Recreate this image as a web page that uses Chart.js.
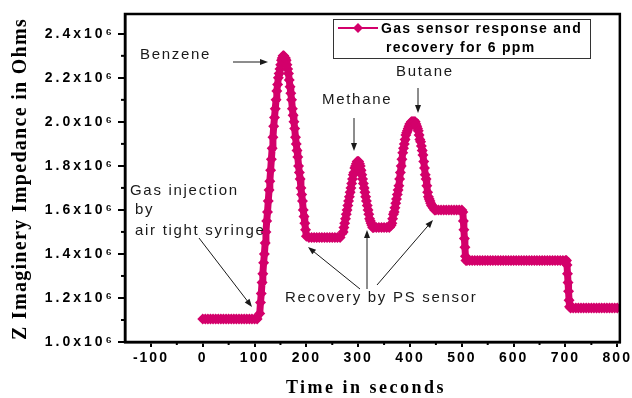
<!DOCTYPE html>
<html>
<head>
<meta charset="utf-8">
<script src="https://cdn.jsdelivr.net/npm/chart.js@4.4.1/dist/chart.umd.min.js"></script>
<style>
  html, body { margin: 0; padding: 0; background: #fff; }
</style>
</head>
<body>
<canvas id="zChart" width="632" height="398"></canvas>
<script>
// time in seconds, one entry per plotted reading
const timeSec = [
  0, 5, 10, 15, 20, 25, 30, 35, 40, 45, 50, 55, 60, 65, 70, 75, 80, 85, 90, 95, 100, 105,
  // benzene
  110, 111.5, 113, 114.5, 116, 117.5, 119, 120.5, 122, 123.5, 125, 126.5, 128, 129.5, 131, 132.5,
  134, 135.5, 137, 138.5, 140, 141.5, 143, 144.5, 146, 147.5, 149, 150.5, 152, 153.5, 155,
  156.5, 158, 159.5, 161, 162.5, 164, 165.5, 167, 168.5, 170, 171.5, 173, 174.5, 176, 177.5,
  179, 180.5, 182, 183.5, 185, 186.5, 188, 189.5, 191, 192.5, 194, 195.5, 197, 198.5, 200,
  205, 210, 215, 220, 225, 230, 235, 240, 245, 250, 255, 260, 265,
  // methane
  271, 272.5, 274, 275.5, 277, 278.5, 280, 281.5, 283, 284.5, 286, 287.5, 289, 290.5, 292, 293.5, 295, 296.5, 298, 299.5,
  301, 302.5, 304, 305.5, 307, 308.5, 310, 311.5, 313, 314.5, 316, 317.5, 319, 320.5, 322, 323.5, 325, 326.5, 328,
  330, 335, 340, 345, 350, 355, 360,
  // butane
  363.5, 365, 366.5, 368, 369.5, 371, 372.5, 374, 375.5, 377, 378.5, 380, 381.5, 383, 384.5, 386,
  387.5, 389, 390.5, 392, 393.5, 395, 396.5, 398, 399.5, 401, 402.5, 404, 405.5, 407, 408.5,
  410, 411.5, 413, 414.5, 416, 417.5, 419, 420.5, 422, 423.5, 425, 426.5, 428, 429.5, 431, 432.5,
  434, 435.5, 437, 438.5, 440, 441.5, 443, 444.5, 446, 447.5,
  450, 455, 460, 465, 470, 475, 480, 485, 490, 495, 500,
  502, 503, 504, 505, 506, 507, 508,
  510, 515, 520, 525, 530, 535, 540, 545, 550, 555, 560, 565, 570, 575, 580, 585, 590, 595, 600, 605,
  610, 615, 620, 625, 630, 635, 640, 645, 650, 655, 660, 665, 670, 675, 680, 685, 690, 695, 700,
  702, 703, 704, 705, 706, 707, 708,
  710, 715, 720, 725, 730, 735, 740, 745, 750, 755, 760, 765, 770, 775, 780, 785, 790, 795, 800
];

// Z imaginary impedance, in units of 10^6 Ohms
const zImag = [
  1.105, 1.105, 1.105, 1.105, 1.105, 1.105, 1.105, 1.105, 1.105, 1.105, 1.105,
  1.105, 1.105, 1.105, 1.105, 1.105, 1.105, 1.105, 1.105, 1.105, 1.105, 1.105,
  // benzene
  1.13, 1.18, 1.22, 1.27, 1.31, 1.36, 1.40, 1.45, 1.50, 1.55, 1.59, 1.64, 1.69, 1.73, 1.78, 1.83,
  1.88, 1.93, 1.98, 2.02, 2.06, 2.10, 2.14, 2.17, 2.20, 2.22, 2.24, 2.26, 2.28, 2.29, 2.30,
  2.30, 2.29, 2.29, 2.28, 2.26, 2.24, 2.22, 2.19, 2.16, 2.13, 2.10, 2.06, 2.03, 2.00, 1.97,
  1.93, 1.90, 1.87, 1.84, 1.80, 1.77, 1.74, 1.70, 1.67, 1.64, 1.60, 1.57, 1.54, 1.51, 1.48,
  1.475, 1.475, 1.475, 1.475, 1.475, 1.475, 1.475, 1.475, 1.475, 1.475, 1.475, 1.475, 1.475,
  // methane
  1.50, 1.52, 1.54, 1.56, 1.58, 1.60, 1.62, 1.64, 1.66, 1.68, 1.70, 1.72, 1.74, 1.76, 1.77, 1.79, 1.80, 1.81, 1.82, 1.82,
  1.82, 1.81, 1.80, 1.78, 1.76, 1.74, 1.72, 1.70, 1.68, 1.66, 1.64, 1.62, 1.60, 1.58, 1.56, 1.55, 1.54, 1.53, 1.52,
  1.52, 1.52, 1.52, 1.52, 1.52, 1.52, 1.52,
  // butane
  1.53, 1.54, 1.56, 1.58, 1.59, 1.61, 1.63, 1.65, 1.67, 1.69, 1.71, 1.74, 1.77, 1.80, 1.83, 1.86,
  1.88, 1.90, 1.92, 1.94, 1.95, 1.96, 1.97, 1.98, 1.99, 1.99, 2.00, 2.00, 2.00, 2.00, 2.00,
  2.00, 1.99, 1.98, 1.97, 1.96, 1.94, 1.92, 1.91, 1.89, 1.87, 1.85, 1.82, 1.79, 1.76, 1.74, 1.71,
  1.68, 1.66, 1.65, 1.64, 1.63, 1.62, 1.62, 1.61, 1.61, 1.60,
  1.60, 1.60, 1.60, 1.60, 1.60, 1.60, 1.60, 1.60, 1.60, 1.60, 1.60,
  1.59, 1.55, 1.51, 1.47, 1.43, 1.39, 1.37,
  1.37, 1.37, 1.37, 1.37, 1.37, 1.37, 1.37, 1.37, 1.37, 1.37, 1.37, 1.37, 1.37, 1.37, 1.37, 1.37, 1.37, 1.37, 1.37, 1.37,
  1.37, 1.37, 1.37, 1.37, 1.37, 1.37, 1.37, 1.37, 1.37, 1.37, 1.37, 1.37, 1.37, 1.37, 1.37, 1.37, 1.37, 1.37, 1.37,
  1.37, 1.35, 1.31, 1.27, 1.23, 1.19, 1.16,
  1.155, 1.155, 1.155, 1.155, 1.155, 1.155, 1.155, 1.155, 1.155, 1.155, 1.155, 1.155, 1.155, 1.155, 1.155, 1.155, 1.155, 1.155, 1.155
];

const seriesLabel = ['Gas sensor response and', 'recovery for 6 ppm'];
const xTitle = 'Time in seconds';
const yTitle = 'Z Imaginery Impedance in Ohms';
const minorX = [-50, 50, 150, 250, 350, 450, 550, 650, 750];
const minorY = [1.1, 1.3, 1.5, 1.7, 1.9, 2.1, 2.3];

const notes = [
  { text: 'Benzene', x: 140, y: 59 },
  { text: 'Methane', x: 322, y: 104 },
  { text: 'Butane', x: 396, y: 76 },
  { text: 'Gas injection', x: 130, y: 195 },
  { text: 'by', x: 135, y: 214 },
  { text: 'air tight syringe', x: 135, y: 235 },
  { text: 'Recovery by PS sensor', x: 285, y: 302 }
];
const arrows = [
  [233, 62, 268, 62],
  [354, 118, 354, 151],
  [418, 88, 418, 113],
  [199, 238, 252, 307],
  [360, 289, 308, 247],
  [367, 289, 367, 230],
  [377, 285, 433, 220]
];

const pink = '#d3006b';

function arrow(c, x1, y1, x2, y2) {
  const ang = Math.atan2(y2 - y1, x2 - x1);
  c.beginPath();
  c.moveTo(x1, y1);
  c.lineTo(x2 - 6 * Math.cos(ang), y2 - 6 * Math.sin(ang));
  c.stroke();
  c.beginPath();
  c.moveTo(x2, y2);
  c.lineTo(x2 - 8 * Math.cos(ang) + 3 * Math.sin(ang), y2 - 8 * Math.sin(ang) - 3 * Math.cos(ang));
  c.lineTo(x2 - 8 * Math.cos(ang) - 3 * Math.sin(ang), y2 - 8 * Math.sin(ang) + 3 * Math.cos(ang));
  c.closePath();
  c.fill();
}

// spaced out tick labels, like the original figure
const spacedTicks = {
  id: 'spacedTicks',
  beforeDraw(chart) {
    [['x', '2px'], ['y', '3px']].forEach(([id, sp]) => {
      const sc = chart.scales[id];
      if (sc._spaced) return;
      const orig = sc.drawLabels;
      sc.drawLabels = function(area) {
        const prev = this.ctx.letterSpacing;
        this.ctx.letterSpacing = sp;
        orig.call(this, area);
        this.ctx.letterSpacing = prev;
      };
      sc._spaced = true;
    });
  }
};

const overlay = {
  id: 'overlay',
  afterDraw(chart) {
    const c = chart.ctx, a = chart.chartArea;
    const xs = chart.scales.x, ys = chart.scales.y;
    c.save();
    c.strokeStyle = '#000';
    c.lineWidth = 2.5;
    c.strokeRect(a.left, a.top, a.right - a.left, a.bottom - a.top);

    // minor ticks
    c.lineWidth = 2;
    minorX.forEach(v => {
      const px = xs.getPixelForValue(v);
      c.beginPath(); c.moveTo(px, a.bottom); c.lineTo(px, a.bottom + 3); c.stroke();
    });
    minorY.forEach(v => {
      const py = ys.getPixelForValue(v);
      c.beginPath(); c.moveTo(a.left, py); c.lineTo(a.left - 4, py); c.stroke();
    });

    // legend box
    c.lineWidth = 1;
    c.strokeStyle = '#333';
    c.fillStyle = '#fff';
    c.fillRect(333, 19, 257, 39);
    c.strokeRect(333.5, 19.5, 257, 39);
    c.strokeStyle = pink; c.lineWidth = 2;
    c.beginPath(); c.moveTo(338, 28); c.lineTo(378, 28); c.stroke();
    c.fillStyle = pink;
    c.beginPath(); c.moveTo(358, 23); c.lineTo(363, 28); c.lineTo(358, 33); c.lineTo(353, 28); c.closePath(); c.fill();
    c.fillStyle = '#000';
    c.font = 'bold 14px "Liberation Sans"';
    c.letterSpacing = '1.3px';
    c.textBaseline = 'alphabetic';
    c.fillText(seriesLabel[0], 381, 33);
    c.fillText(seriesLabel[1], 386, 52);

    // annotations
    c.font = '15px "Liberation Sans"';
    c.letterSpacing = '1.7px';
    c.fillStyle = '#1a1a1a';
    notes.forEach(n => c.fillText(n.text, n.x, n.y));
    c.strokeStyle = '#1a1a1a';
    c.lineWidth = 1;
    arrows.forEach(r => arrow(c, r[0], r[1], r[2], r[3]));

    // axis titles
    c.fillStyle = '#000';
    c.textAlign = 'center';
    c.font = 'bold 18px "Liberation Serif"';
    c.letterSpacing = '2.5px';
    c.fillText(xTitle, 366, 393);
    c.save();
    c.translate(26, 179);
    c.rotate(-Math.PI / 2);
    c.font = 'bold 20px "Liberation Serif"';
    c.letterSpacing = '1.3px';
    c.fillText(yTitle, 0, 0);
    c.restore();
    c.restore();
  }
};

const ctx = document.getElementById('zChart').getContext('2d');
const zChart = new Chart(ctx, {
  type: 'line',
  data: {
    datasets: [{
      label: seriesLabel.join(' '),
      data: timeSec.map((t, i) => ({ x: t, y: zImag[i] })),
      borderColor: pink,
      backgroundColor: pink,
      borderWidth: 7,
      borderJoinStyle: 'round',
      borderCapStyle: 'round',
      pointStyle: 'rectRot',
      pointRadius: 5.5,
      pointBorderWidth: 0,
      pointBackgroundColor: pink,
      tension: 0
    }]
  },
  options: {
    responsive: false,
    animation: false,
    devicePixelRatio: 1,
    layout: { padding: { top: 14, right: 12, left: 0, bottom: 0 } },
    plugins: {
      legend: { display: false },
      tooltip: { enabled: false }
    },
    scales: {
      x: {
        type: 'linear',
        min: -150,
        max: 805,
        afterFit: s => { s.height = 56; },
        ticks: {
          stepSize: 100,
          includeBounds: false,
          autoSkip: false,
          maxRotation: 0,
          padding: 3,
          color: '#000',
          font: { family: 'Liberation Sans', size: 14, weight: 'bold' }
        },
        grid: { drawOnChartArea: false, tickLength: 5, lineWidth: 2, color: '#000' },
        border: { color: '#000', width: 2.5 }
      },
      y: {
        type: 'linear',
        min: 1.0,
        max: 2.49,
        afterFit: s => { s.width = 125; },
        ticks: {
          stepSize: 0.2,
          includeBounds: false,
          padding: 3,
          color: '#000',
          font: { family: 'Liberation Sans', size: 14, weight: 'bold' },
          callback: v => v.toFixed(1) + 'x10⁶'
        },
        grid: { drawOnChartArea: false, tickLength: 7, lineWidth: 2, color: '#000' },
        border: { color: '#000', width: 2.5 }
      }
    }
  },
  plugins: [spacedTicks, overlay]
});
</script>
</body>
</html>
